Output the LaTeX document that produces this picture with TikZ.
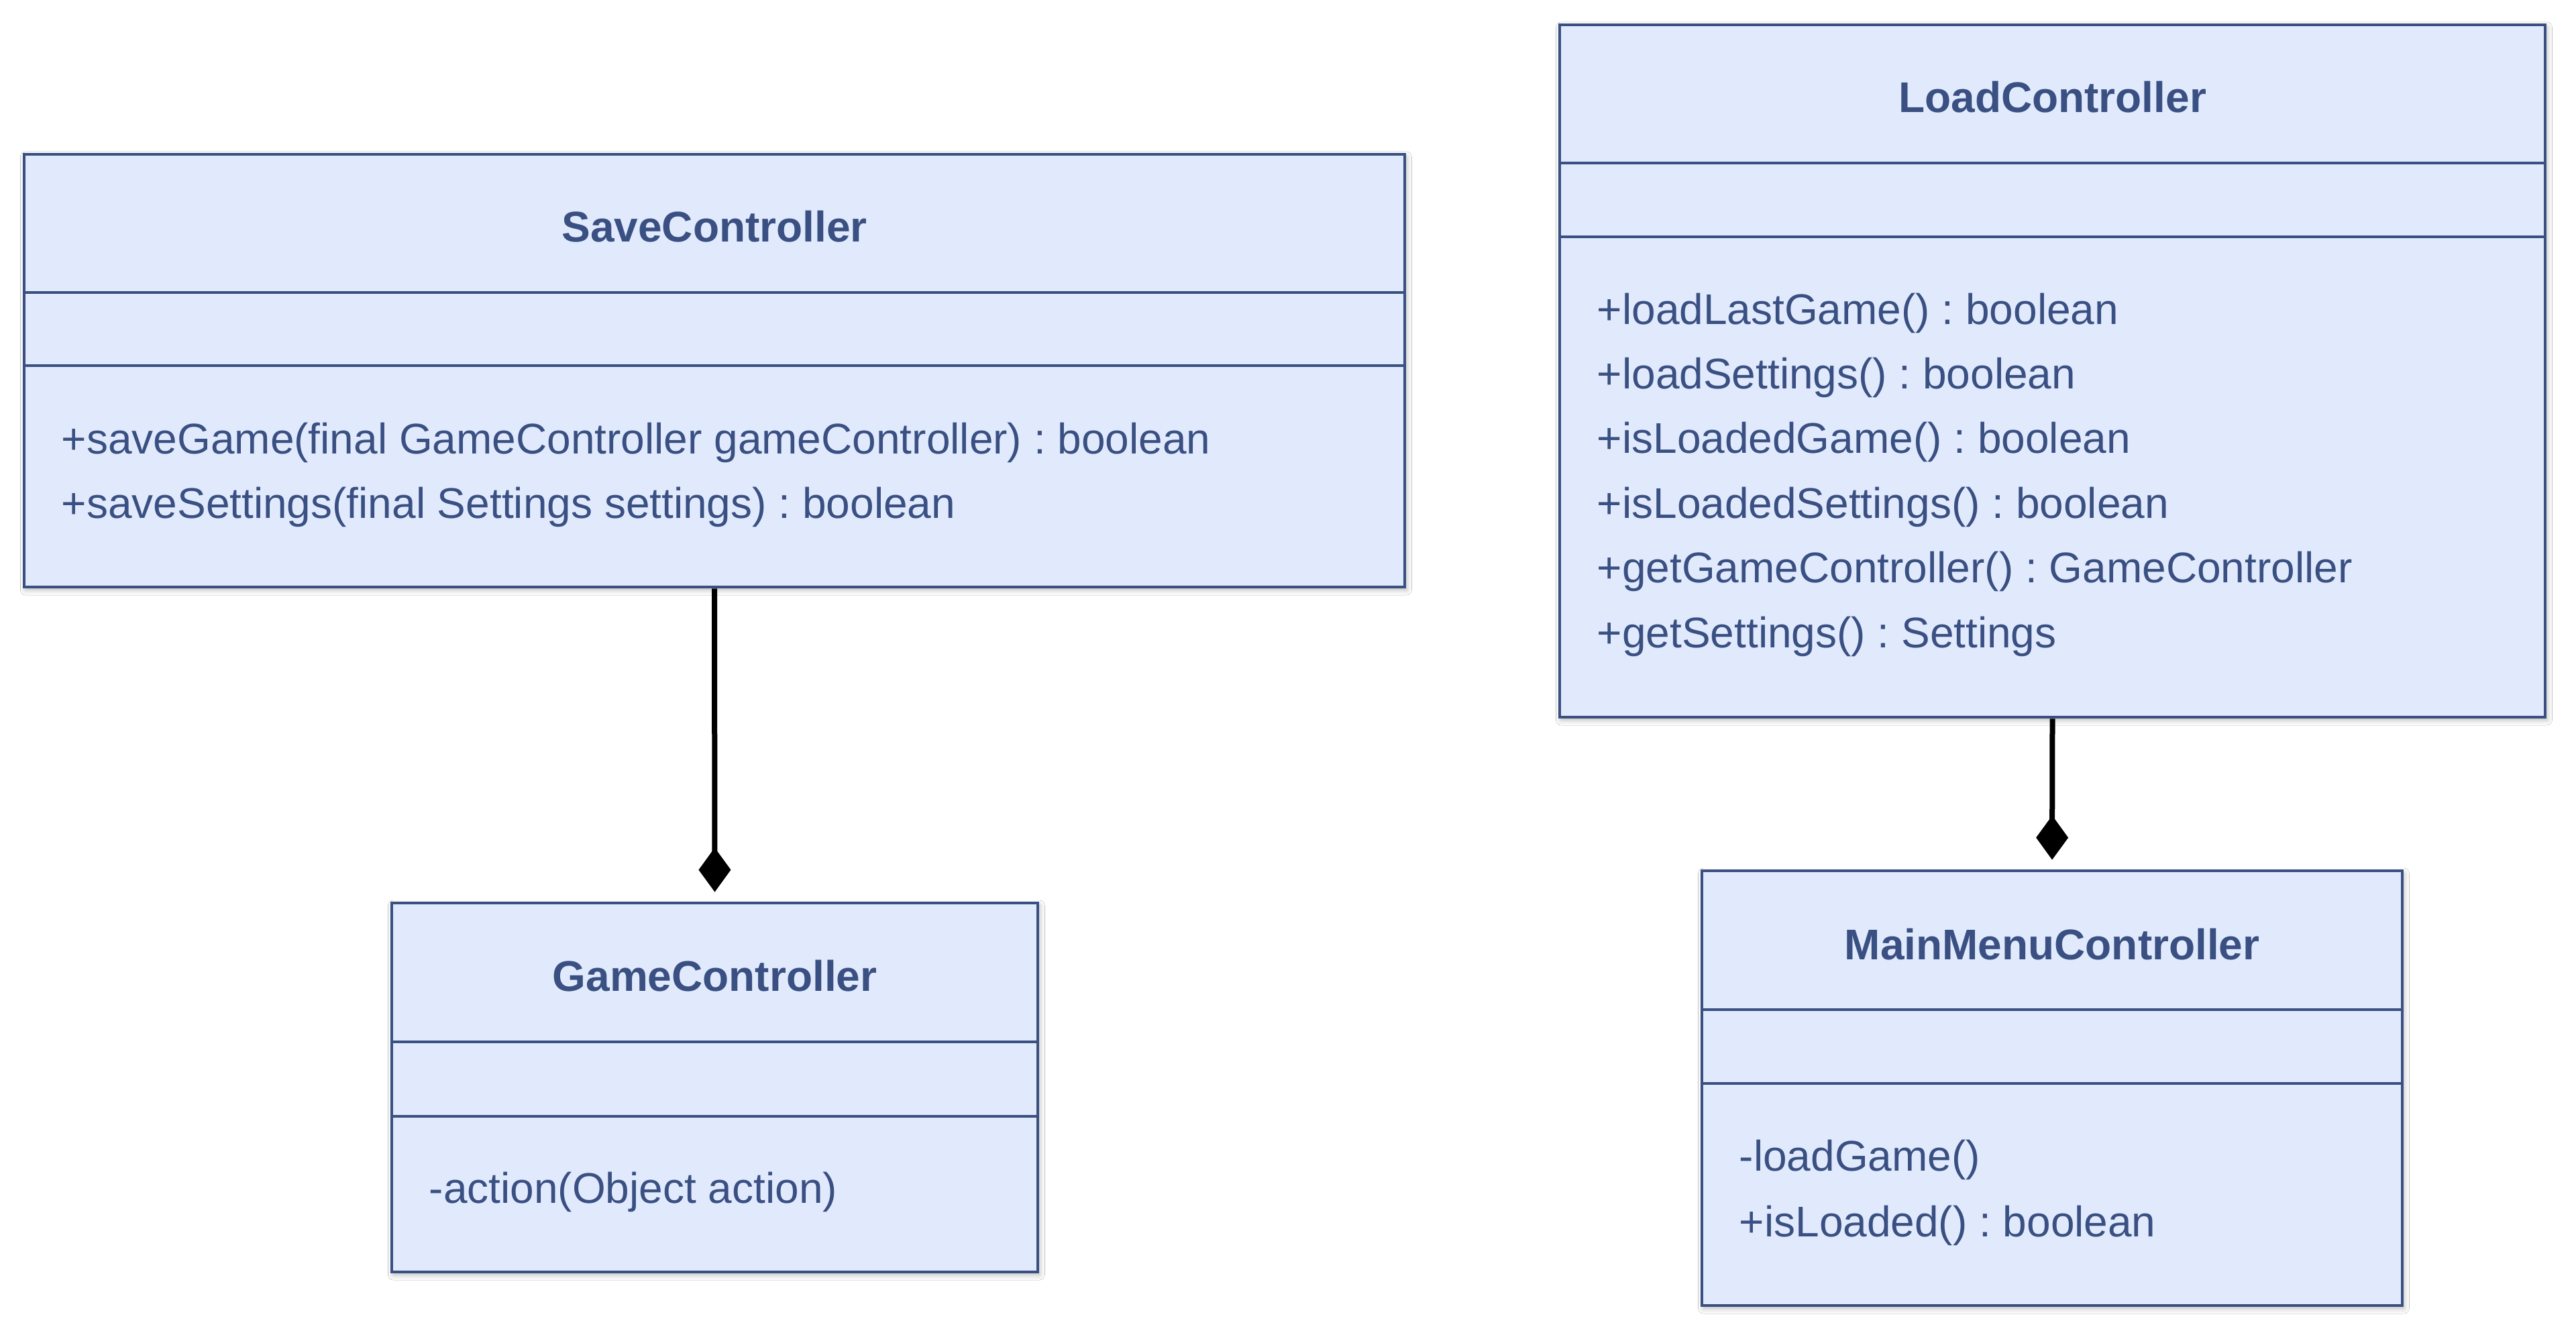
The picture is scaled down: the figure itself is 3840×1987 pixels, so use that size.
\documentclass[tikz,border=0pt]{standalone}
\usepackage{fontspec}
\setmainfont{Liberation Sans}
\usetikzlibrary{arrows.meta,shadows.blur,fit}
\definecolor{umlfill}{HTML}{E1EAFD}
\definecolor{umlline}{HTML}{3A5082}
\frenchspacing
\begin{document}
\frenchspacing
\begin{tikzpicture}[x=0.25pt,y=-0.25pt,
  classbox/.style={draw=umlline, line width=1.2pt, fill=umlfill, inner sep=0pt,
    blur shadow={shadow xshift=0.6pt, shadow yshift=-1pt, shadow blur radius=2pt, shadow opacity=30}},
  divider/.style={draw=umlline, line width=1.2pt},
  classtitle/.style={anchor=base, inner sep=0pt, text=umlline, font=\fontsize{16pt}{19pt}\selectfont\bfseries\frenchspacing},
  member/.style={anchor=base west, inner sep=0pt, text=umlline, font=\fontsize{16pt}{19pt}\selectfont\frenchspacing},
  comp/.style={draw=black, line width=2pt, -{Diamond[length=16.5pt,width=12pt]}, shorten >=3.5pt}]
\fill[white] (0,0) rectangle (3840,1987);
\useasboundingbox (0,0) rectangle (3840,1987);

% SaveController
\node[classbox, fit={(36,230) (2094,875)}] (save) {};
\draw[divider] (36,436) -- (2094,436);
\draw[divider] (36,545) -- (2094,545);
\node[classtitle] (saveT) at (1065,361) {SaveController};
\node[member] (saveM1) at (91,677) {+saveGame(final GameController gameController) : boolean};
\node[member] (saveM2) at (91,773) {+saveSettings(final Settings settings) : boolean};

% LoadController
\node[classbox, fit={(2325,37) (3794,1069)}] (load) {};
\draw[divider] (2325,243) -- (3794,243);
\draw[divider] (2325,353) -- (3794,353);
\node[classtitle] (loadT) at (3059.5,168) {LoadController};
\node[member] (loadM1) at (2380,484) {+loadLastGame() : boolean};
\node[member] (loadM2) at (2380,580) {+loadSettings() : boolean};
\node[member] (loadM3) at (2380,676) {+isLoadedGame() : boolean};
\node[member] (loadM4) at (2380,773) {+isLoadedSettings() : boolean};
\node[member] (loadM5) at (2380,869) {+getGameController() : GameController};
\node[member] (loadM6) at (2380,965) {+getSettings() : Settings};

% GameController
\node[classbox, fit={(584,1346) (1547,1896)}] (game) {};
\draw[divider] (584,1553) -- (1547,1553);
\draw[divider] (584,1664) -- (1547,1664);
\node[classtitle] (gameT) at (1065.5,1477) {GameController};
\node[member] (gameM1) at (639,1793) {-action(Object action)};

% MainMenuController
\node[classbox, fit={(2537,1298) (3581,1946)}] (main) {};
\draw[divider] (2537,1505) -- (3581,1505);
\draw[divider] (2537,1615) -- (3581,1615);
\node[classtitle] (mainT) at (3059,1430) {MainMenuController};
\node[member] (mainM1) at (2592,1745) {-loadGame()};
\node[member] (mainM2) at (2592,1843) {+isLoaded() : boolean};

% connectors
\draw[comp] (save.south) -- (game.north);
\draw[comp] (load.south) -- (main.north);
\end{tikzpicture}
\end{document}
